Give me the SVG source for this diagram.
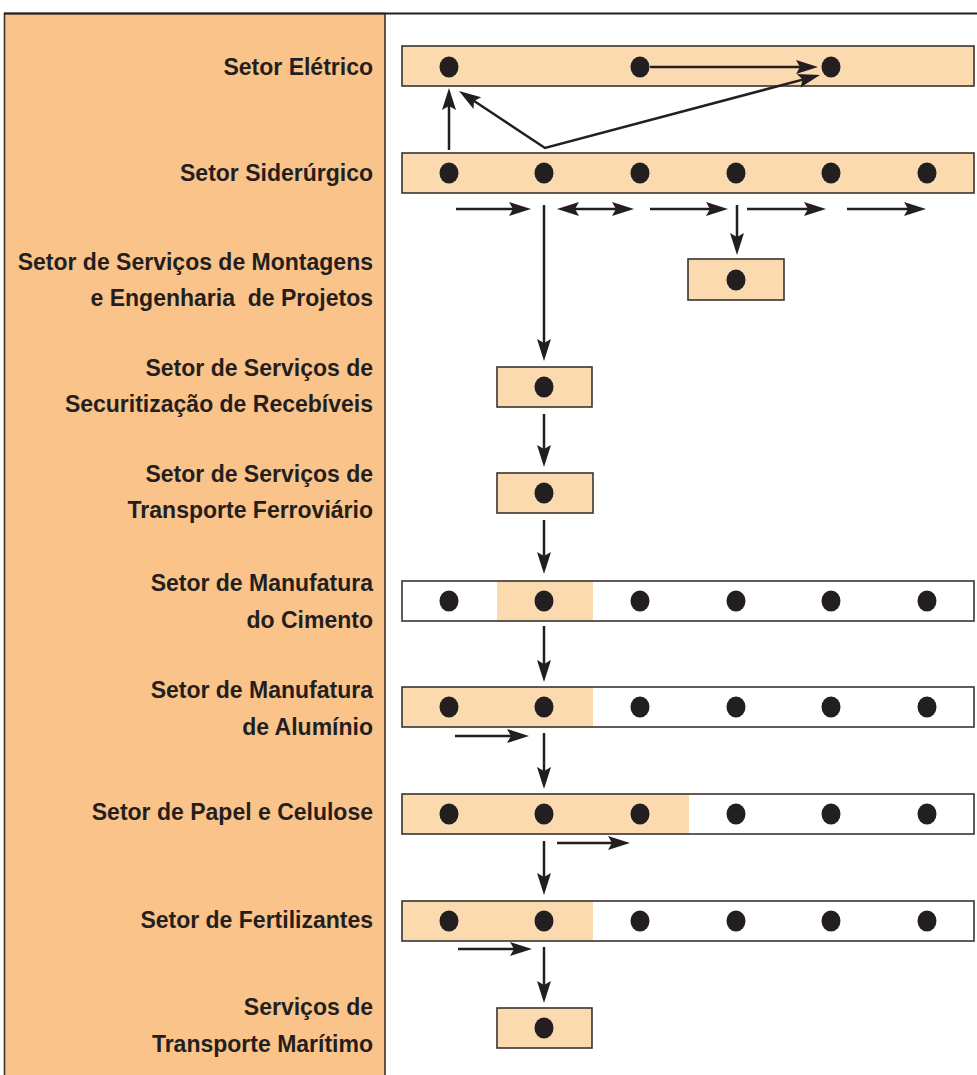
<svg xmlns="http://www.w3.org/2000/svg" width="977" height="1075" viewBox="0 0 977 1075">
<style>
.lbl{font-family:"Liberation Sans",Arial,sans-serif;font-weight:bold;font-size:23px;fill:#231F20;text-anchor:end}
.box{fill:#FCDAB0;stroke:#3A3430;stroke-width:1.6}
.wbox{fill:#FFFFFF;stroke:none}
.hl{fill:#FCDAB0;stroke:none}
.edge{fill:none;stroke:#3A3430;stroke-width:1.6}
.dot{fill:#231F20}
.arr{fill:none;stroke:#231F20;stroke-width:2.5}
.head{fill:#231F20;stroke:none}
</style>
<defs>
<path id="hd" class="head" d="M0,0 L-22,-7 L-18,0 L-22,7 z"/>
</defs>
<rect x="0" y="0" width="977" height="1075" fill="#FFFFFF"/>
<g id="frame">
<rect x="4.5" y="13.5" width="380.5" height="1070" fill="#FAC38A" stroke="#3A3430" stroke-width="1.6"/>
<line x1="4" y1="13.5" x2="977" y2="13.5" stroke="#231F20" stroke-width="2"/>
</g>
<g id="labels">
<text class="lbl" x="373" y="75">Setor Elétrico</text>
<text class="lbl" x="373" y="181">Setor Siderúrgico</text>
<text class="lbl" x="373" y="270">Setor de Serviços de Montagens</text>
<text class="lbl" x="373" y="306" style="white-space:pre">e Engenharia  de Projetos</text>
<text class="lbl" x="373" y="376">Setor de Serviços de</text>
<text class="lbl" x="373" y="412">Securitização de Recebíveis</text>
<text class="lbl" x="373" y="482">Setor de Serviços de</text>
<text class="lbl" x="373" y="518">Transporte Ferroviário</text>
<text class="lbl" x="373" y="591">Setor de Manufatura</text>
<text class="lbl" x="373" y="628">do Cimento</text>
<text class="lbl" x="373" y="698">Setor de Manufatura</text>
<text class="lbl" x="373" y="735">de Alumínio</text>
<text class="lbl" x="373" y="820">Setor de Papel e Celulose</text>
<text class="lbl" x="373" y="928">Setor de Fertilizantes</text>
<text class="lbl" x="373" y="1015">Serviços de</text>
<text class="lbl" x="373" y="1052">Transporte Marítimo</text>
</g>
<g id="eletrico">
<rect class="box" x="402" y="46" width="572" height="40"/>
<ellipse class="dot" cx="449" cy="67" rx="9.5" ry="10.5"/>
<ellipse class="dot" cx="640" cy="67" rx="9.5" ry="10.5"/>
<ellipse class="dot" cx="831" cy="67" rx="9.5" ry="10.5"/>
</g>
<g id="siderurgico">
<rect class="box" x="402" y="153" width="572" height="40"/>
<ellipse class="dot" cx="449" cy="173" rx="9.5" ry="10.5"/>
<ellipse class="dot" cx="544" cy="173" rx="9.5" ry="10.5"/>
<ellipse class="dot" cx="640" cy="173" rx="9.5" ry="10.5"/>
<ellipse class="dot" cx="736" cy="173" rx="9.5" ry="10.5"/>
<ellipse class="dot" cx="831" cy="173" rx="9.5" ry="10.5"/>
<ellipse class="dot" cx="927" cy="173" rx="9.5" ry="10.5"/>
</g>
<g id="montagens">
<rect class="box" x="688" y="259" width="96" height="41"/>
<ellipse class="dot" cx="736" cy="280" rx="9.5" ry="10.5"/>
</g>
<g id="securitizacao">
<rect class="box" x="497" y="367" width="95" height="40"/>
<ellipse class="dot" cx="544" cy="387" rx="9.5" ry="10.5"/>
</g>
<g id="ferroviario">
<rect class="box" x="497" y="473" width="96" height="40"/>
<ellipse class="dot" cx="544" cy="493" rx="9.5" ry="10.5"/>
</g>
<g id="cimento">
<rect class="wbox" x="402" y="581" width="572" height="40"/>
<rect class="hl" x="497" y="581" width="96" height="40"/>
<rect class="edge" x="402" y="581" width="572" height="40"/>
<ellipse class="dot" cx="449" cy="601" rx="9.5" ry="10.5"/>
<ellipse class="dot" cx="544" cy="601" rx="9.5" ry="10.5"/>
<ellipse class="dot" cx="640" cy="601" rx="9.5" ry="10.5"/>
<ellipse class="dot" cx="736" cy="601" rx="9.5" ry="10.5"/>
<ellipse class="dot" cx="831" cy="601" rx="9.5" ry="10.5"/>
<ellipse class="dot" cx="927" cy="601" rx="9.5" ry="10.5"/>
</g>
<g id="aluminio">
<rect class="wbox" x="402" y="687" width="572" height="40"/>
<rect class="hl" x="402" y="687" width="191" height="40"/>
<rect class="edge" x="402" y="687" width="572" height="40"/>
<ellipse class="dot" cx="449" cy="707" rx="9.5" ry="10.5"/>
<ellipse class="dot" cx="544" cy="707" rx="9.5" ry="10.5"/>
<ellipse class="dot" cx="640" cy="707" rx="9.5" ry="10.5"/>
<ellipse class="dot" cx="736" cy="707" rx="9.5" ry="10.5"/>
<ellipse class="dot" cx="831" cy="707" rx="9.5" ry="10.5"/>
<ellipse class="dot" cx="927" cy="707" rx="9.5" ry="10.5"/>
</g>
<g id="papel">
<rect class="wbox" x="402" y="794" width="572" height="40"/>
<rect class="hl" x="402" y="794" width="287" height="40"/>
<rect class="edge" x="402" y="794" width="572" height="40"/>
<ellipse class="dot" cx="449" cy="814" rx="9.5" ry="10.5"/>
<ellipse class="dot" cx="544" cy="814" rx="9.5" ry="10.5"/>
<ellipse class="dot" cx="640" cy="814" rx="9.5" ry="10.5"/>
<ellipse class="dot" cx="736" cy="814" rx="9.5" ry="10.5"/>
<ellipse class="dot" cx="831" cy="814" rx="9.5" ry="10.5"/>
<ellipse class="dot" cx="927" cy="814" rx="9.5" ry="10.5"/>
</g>
<g id="fertilizantes">
<rect class="wbox" x="402" y="901" width="572" height="40"/>
<rect class="hl" x="402" y="901" width="191" height="40"/>
<rect class="edge" x="402" y="901" width="572" height="40"/>
<ellipse class="dot" cx="449" cy="921" rx="9.5" ry="10.5"/>
<ellipse class="dot" cx="544" cy="921" rx="9.5" ry="10.5"/>
<ellipse class="dot" cx="640" cy="921" rx="9.5" ry="10.5"/>
<ellipse class="dot" cx="736" cy="921" rx="9.5" ry="10.5"/>
<ellipse class="dot" cx="831" cy="921" rx="9.5" ry="10.5"/>
<ellipse class="dot" cx="927" cy="921" rx="9.5" ry="10.5"/>
</g>
<g id="maritimo">
<rect class="box" x="497" y="1008" width="95" height="40"/>
<ellipse class="dot" cx="544" cy="1028" rx="9.5" ry="10.5"/>
</g>
<g id="connectors">
<line class="arr" x1="650" y1="67" x2="808" y2="67"/>
<use href="#hd" transform="translate(818,67)"/>
<line class="arr" x1="449" y1="150" x2="449" y2="98"/>
<use href="#hd" transform="translate(449,88) rotate(-90)"/>
<polyline class="arr" points="467.3,96.5 545,148 810.3,77.6"/>
<use href="#hd" transform="translate(459,91) rotate(-146.5)"/>
<use href="#hd" transform="translate(820,75) rotate(-14.87)"/>
<line class="arr" x1="456" y1="209" x2="521" y2="209"/>
<use href="#hd" transform="translate(531,209)"/>
<line class="arr" x1="567" y1="209" x2="624" y2="209"/>
<use href="#hd" transform="translate(634,209)"/>
<use href="#hd" transform="translate(557,209) rotate(180)"/>
<line class="arr" x1="650" y1="209" x2="718" y2="209"/>
<use href="#hd" transform="translate(728,209)"/>
<line class="arr" x1="747" y1="209" x2="816" y2="209"/>
<use href="#hd" transform="translate(826,209)"/>
<line class="arr" x1="847" y1="209" x2="916" y2="209"/>
<use href="#hd" transform="translate(926,209)"/>
<line class="arr" x1="544" y1="205" x2="544" y2="351"/>
<use href="#hd" transform="translate(544,361) rotate(90)"/>
<line class="arr" x1="737" y1="205" x2="737" y2="245"/>
<use href="#hd" transform="translate(737,255) rotate(90)"/>
<line class="arr" x1="544" y1="414" x2="544" y2="457"/>
<use href="#hd" transform="translate(544,467) rotate(90)"/>
<line class="arr" x1="544" y1="520" x2="544" y2="564"/>
<use href="#hd" transform="translate(544,574) rotate(90)"/>
<line class="arr" x1="544" y1="626" x2="544" y2="672"/>
<use href="#hd" transform="translate(544,682) rotate(90)"/>
<line class="arr" x1="455" y1="736" x2="519" y2="736"/>
<use href="#hd" transform="translate(529,736)"/>
<line class="arr" x1="544" y1="733" x2="544" y2="779"/>
<use href="#hd" transform="translate(544,789) rotate(90)"/>
<line class="arr" x1="544" y1="841" x2="544" y2="885"/>
<use href="#hd" transform="translate(544,895) rotate(90)"/>
<line class="arr" x1="557" y1="843" x2="620" y2="843"/>
<use href="#hd" transform="translate(630,843)"/>
<line class="arr" x1="458" y1="949" x2="522" y2="949"/>
<use href="#hd" transform="translate(532,949)"/>
<line class="arr" x1="544" y1="947" x2="544" y2="993"/>
<use href="#hd" transform="translate(544,1003) rotate(90)"/>
</g>
</svg>
